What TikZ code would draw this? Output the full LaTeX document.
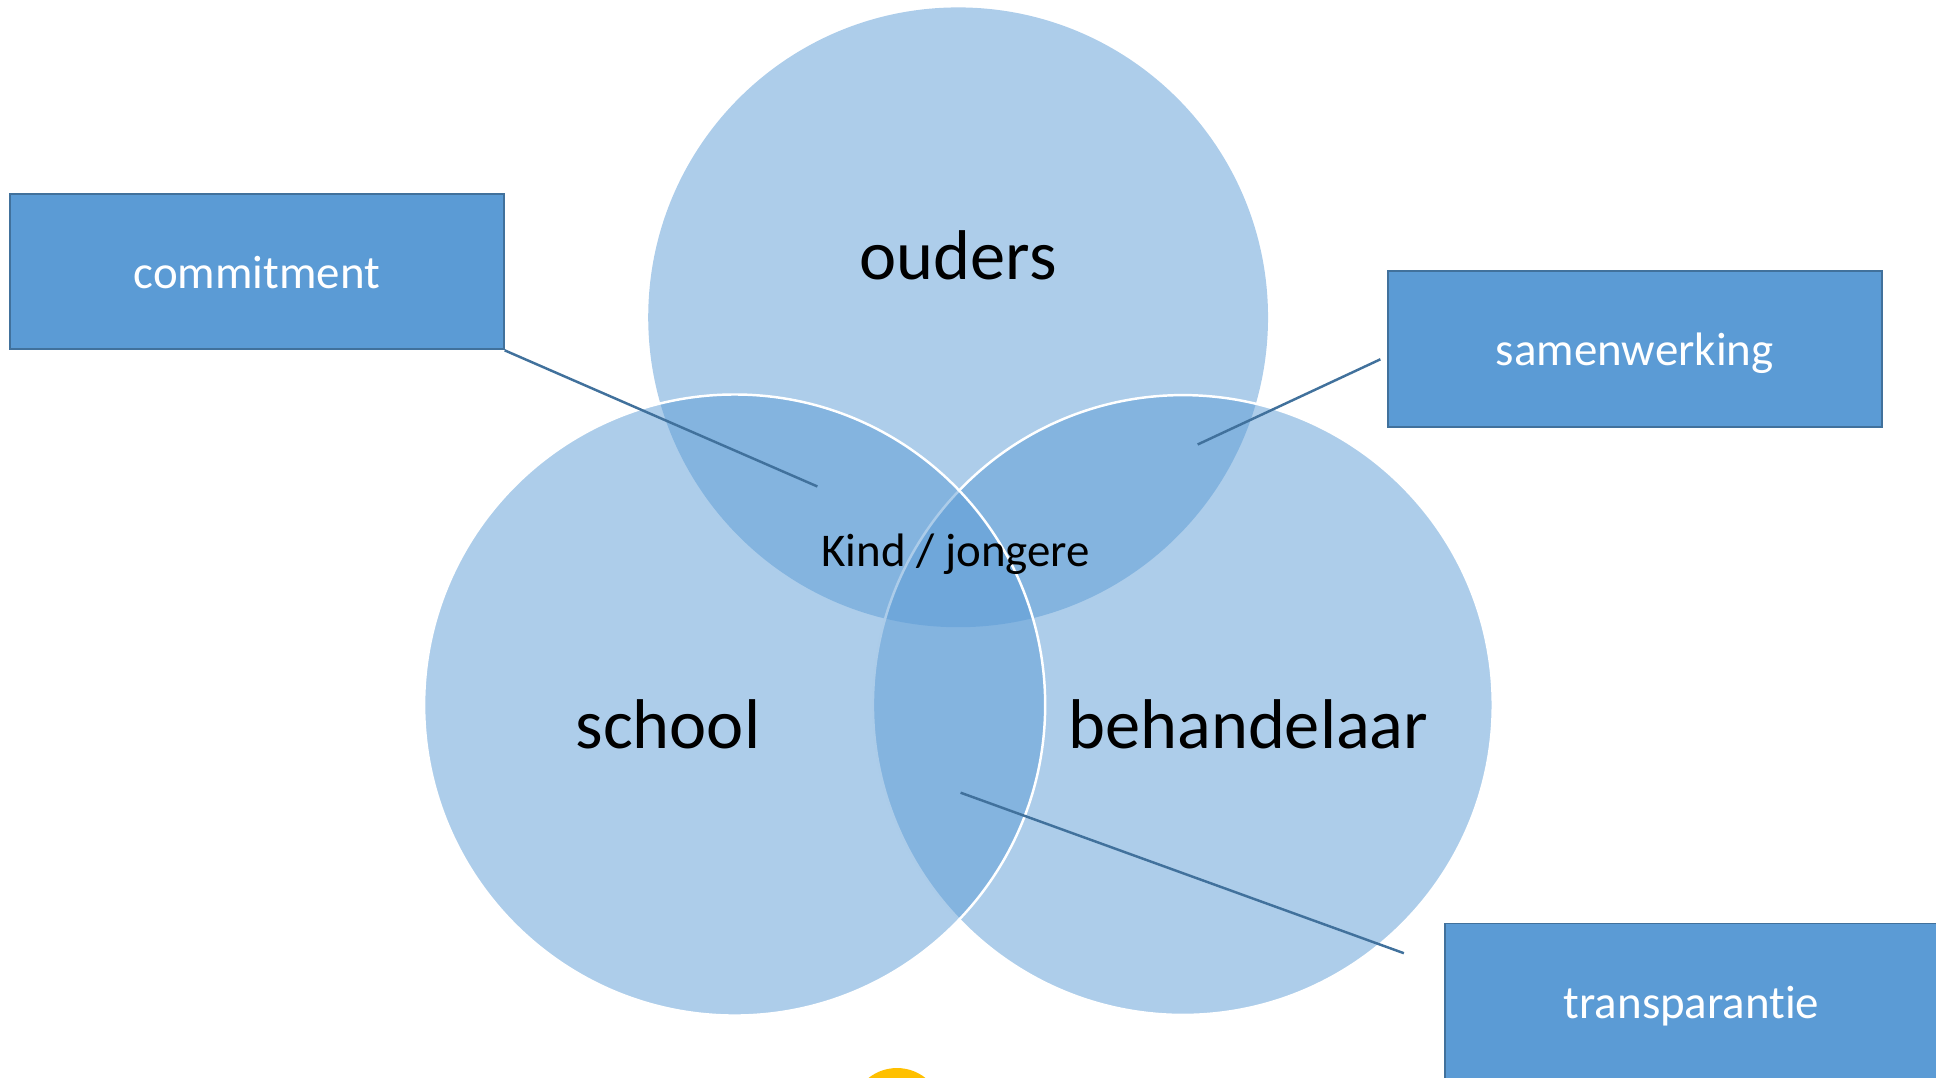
\documentclass[tikz,border=0pt]{standalone}
\usepackage{fontspec}
\setmainfont{Carlito}[RawFeature={-liga;-clig;-calt;-dlig}]
\definecolor{vblue}{HTML}{5B9BD5}
\definecolor{vdark}{HTML}{41719C}
\definecolor{vyellow}{HTML}{FFC000}
\begin{document}
\begin{tikzpicture}[x=1pt,y=-1pt,
  venncircle/.style={circle, inner sep=0pt, outer sep=0pt, fill=vblue, fill opacity=0.5, draw opacity=1},
  whiteedge/.style={draw=white, line width=2pt},
  labelbox/.style={draw=vdark, line width=1.5pt, fill=vblue, text=white, minimum width=400pt, minimum height=126pt, inner sep=0pt, font=\fontsize{38}{40}\selectfont, text height=28.5pt, text depth=1.5pt},
  bigtext/.style={font=\fontsize{57}{60}\selectfont, anchor=base, text=black, inner sep=0pt},
  midtext/.style={font=\fontsize{38}{40}\selectfont, anchor=base, text=black, inner sep=0pt},
  leader/.style={draw=vdark, line width=2pt}]
\useasboundingbox (0,0) rectangle (1568,873);
\begin{scope}
\clip (0,0) rectangle (1568,873);
% yellow partial circle at bottom
\node[circle, fill=vyellow, minimum size=74pt, inner sep=0pt] (sun) at (726.5,902) {};
% venn circles
\node[venncircle, minimum size=502pt] (ouders) at (776,257) {};
\node[venncircle, whiteedge, minimum size=502pt] (behandelaar) at (958,571) {};
\node[venncircle, whiteedge, minimum size=503pt] (school) at (595,571) {};
% labels in circles
\node[bigtext] (tOuders) at (776,226) {ouders};
\node[bigtext] (tSchool) at (541,606) {school};
\node[bigtext] (tBeh) at (1011,606) {behandelaar};
\node[midtext] (tKind) at (774,459) {Kind / jongere};
% boxes
\node[labelbox] (commit) at (208,220) {commitment};
\node[labelbox] (samen) at (1324,282.5) {samenwerking};
\node[labelbox] (transp) at (1370,811) {transparantie};
% leaders
\coordinate (cEnd) at (662,394);
\coordinate (sStart) at (1118,291);
\coordinate (sEnd) at (970,360);
\coordinate (tStart) at (1137,772);
\coordinate (tEnd) at (778,642);
\draw[leader] (commit.south east) -- (cEnd);
\draw[leader] (sStart) -- (sEnd);
\draw[leader] (tStart) -- (tEnd);
\end{scope}
\end{tikzpicture}
\end{document}
